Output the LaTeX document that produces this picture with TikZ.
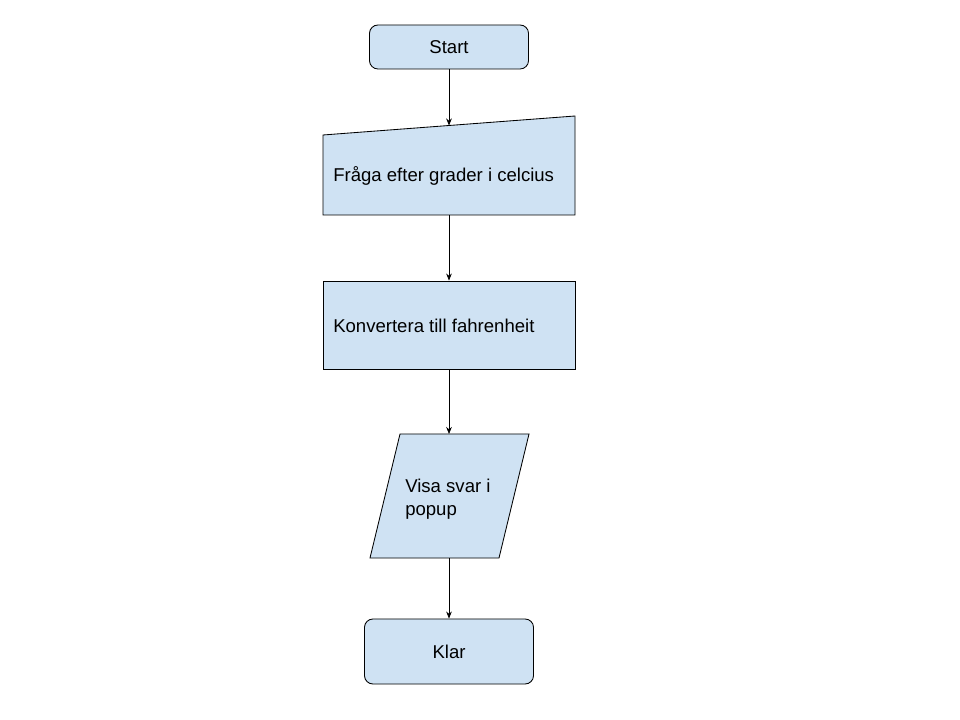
\documentclass[tikz,border=0pt]{standalone}
\usepackage{fontspec}
\setmainfont{Liberation Sans}
\usetikzlibrary{arrows.meta,positioning}
\definecolor{boxblue}{HTML}{CFE2F3}

\begin{document}
\begin{tikzpicture}
    [x=0.025cm,y=-0.025cm,
     box/.style={draw=black,fill=boxblue,line width=0.6pt},
     term/.style={box,rounded corners=6pt,font=\fontsize{13.2}{16.4}\selectfont},
     lbl/.style={anchor=west,align=left,inner sep=0pt,font=\fontsize{13.2}{16.4}\selectfont},
     flow/.style={-{Stealth[length=5pt,width=4pt]},line width=0.5pt}]
    \fill[white] (0,0) rectangle (960,720);

    % start and end
    \node[term,minimum width=3.975cm,minimum height=1.1cm] (start) at (449,47) {Start};
    \node[term,minimum width=4.225cm,minimum height=1.625cm] (done) at (449,651.5) {Klar};

    % manual input
    \draw[box] (323,135) -- (575,116) -- (575,215) -- (323,215) -- cycle;
    \coordinate (askin) at (449,125.5);
    \coordinate (askout) at (449,215);
    \node[lbl] (ask) at (333,176) {Fråga efter grader i celcius};

    % process
    \node[box,minimum width=6.3cm,minimum height=2.2cm] (conv) at (449,325) {};
    \node[lbl] (convtxt) at (333,326) {Konvertera till fahrenheit};

    % output
    \draw[box] (400,434) -- (529,434) -- (499,558) -- (370,558) -- cycle;
    \coordinate (showin) at (449,434);
    \coordinate (showout) at (449,558);
    \node[lbl] (show) at (405,499) {Visa svar i\\popup};

    \draw[flow] (start.south) -- (askin);
    \draw[flow] (askout) -- (conv.north);
    \draw[flow] (conv.south) -- (showin);
    \draw[flow] (showout) -- (done.north);

    \pgfresetboundingbox
    \useasboundingbox (0,0) rectangle (960,720);
\end{tikzpicture}
\end{document}
